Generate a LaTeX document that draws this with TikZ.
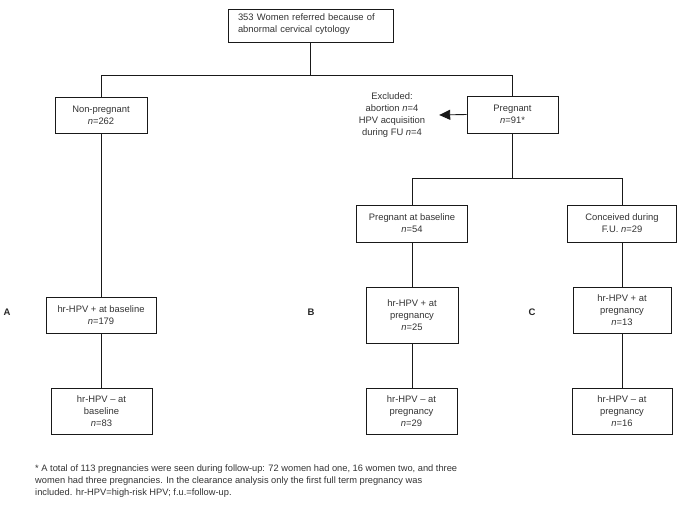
\documentclass[tikz,border=0pt]{standalone}
\usepackage{fontspec}
\setmainfont{Liberation Sans}
\usetikzlibrary{arrows.meta}
\definecolor{ink}{gray}{0.2}
\newcommand{\nn}{\textit{n}}
\begin{document}
\begin{tikzpicture}[x=1pt,y=-1pt,
  every node/.style={font=\fontsize{9.4}{12}\selectfont, text=ink},
  box/.style={draw=black!90, line width=0.9pt, inner sep=0pt, align=center},
  conn/.style={draw=black!90, line width=0.9pt},
  lab/.style={font=\fontsize{9.5}{12}\selectfont\bfseries, text=black!85}]
\useasboundingbox (0,0) rectangle (681,514);
% boxes
\node[box, minimum width=165, minimum height=33, text width=145, inner xsep=10pt, inner ysep=0pt, align=left] (top) at (310.5,25.5)
  {353 Women referred because of\\abnormal cervical cytology\vphantom{g}\vspace{3pt}};
\node[box, minimum width=92, minimum height=36] (non) at (101,115) {Non-pregnant\\\nn=262};
\node[box, minimum width=91, minimum height=37] (preg) at (512.5,114.5) {Pregnant\\\nn=91*};
\node[inner sep=0pt, minimum width=94, align=center] (excl) at (392,115)
  {Excluded:\\abortion \nn=4\\HPV acquisition\\during FU \nn=4};
\node[box, minimum width=111, minimum height=37] (pab) at (412,223.5) {Pregnant at baseline\\\nn=54};
\node[box, minimum width=109, minimum height=37] (conc) at (622,223.5) {Conceived during\\F.U. \nn=29};
\node[box, minimum width=110, minimum height=36] (hA) at (101,315) {hr-HPV + at baseline\\\nn=179};
\node[box, minimum width=92, minimum height=56] (hB) at (412,315) {hr-HPV + at\\pregnancy\\\nn=25};
\node[box, minimum width=98, minimum height=46] (hC) at (622,310) {hr-HPV + at\\pregnancy\\\nn=13};
\node[box, minimum width=101, minimum height=46] (lA) at (101.5,411) {hr-HPV -- at\\baseline\\\nn=83};
\node[box, minimum width=91, minimum height=46] (lB) at (411.5,411) {hr-HPV -- at\\pregnancy\\\nn=29};
\node[box, minimum width=100, minimum height=46] (lC) at (622,411) {hr-HPV -- at\\pregnancy\\\nn=16};
% labels
\node[lab] (A) at (7,312) {A};
\node[lab] (B) at (311,312) {B};
\node[lab] (C) at (532,312) {C};
% footnote
\node[anchor=north west, inner sep=0pt, align=left, font=\fontsize{9.3}{12}\selectfont] (fn) at (35,465)
  {* A total of 113 pregnancies were seen during follow-up: 72 women had one, 16 women two, and three\\
   women had three pregnancies. In the clearance analysis only the first full term pregnancy was\\
   included. hr-HPV=high-risk HPV; f.u.=follow-up.};
% connectors
\coordinate (j1) at (310.5,75);
\coordinate (j2) at (512.5,178);
\draw[conn] (top.south) -- (j1);
\draw[conn] (non.north) -- (non.north |- j1) -- (preg.north |- j1) -- (preg.north);
\draw[conn, -{Triangle[length=11pt,width=10pt]}] (preg.west) -- (excl.east);
\draw[conn] (preg.south) -- (j2);
\draw[conn] (pab.north) -- (pab.north |- j2) -- (conc.north |- j2) -- (conc.north);
\draw[conn] (non.south) -- (hA.north);
\draw[conn] (hA.south) -- (lA.north -| hA.south);
\draw[conn] (pab.south) -- (hB.north);
\draw[conn] (hB.south) -- (lB.north -| hB.south);
\draw[conn] (conc.south) -- (hC.north -| conc.south);
\draw[conn] (hC.south) -- (lC.north);
\end{tikzpicture}
\end{document}
